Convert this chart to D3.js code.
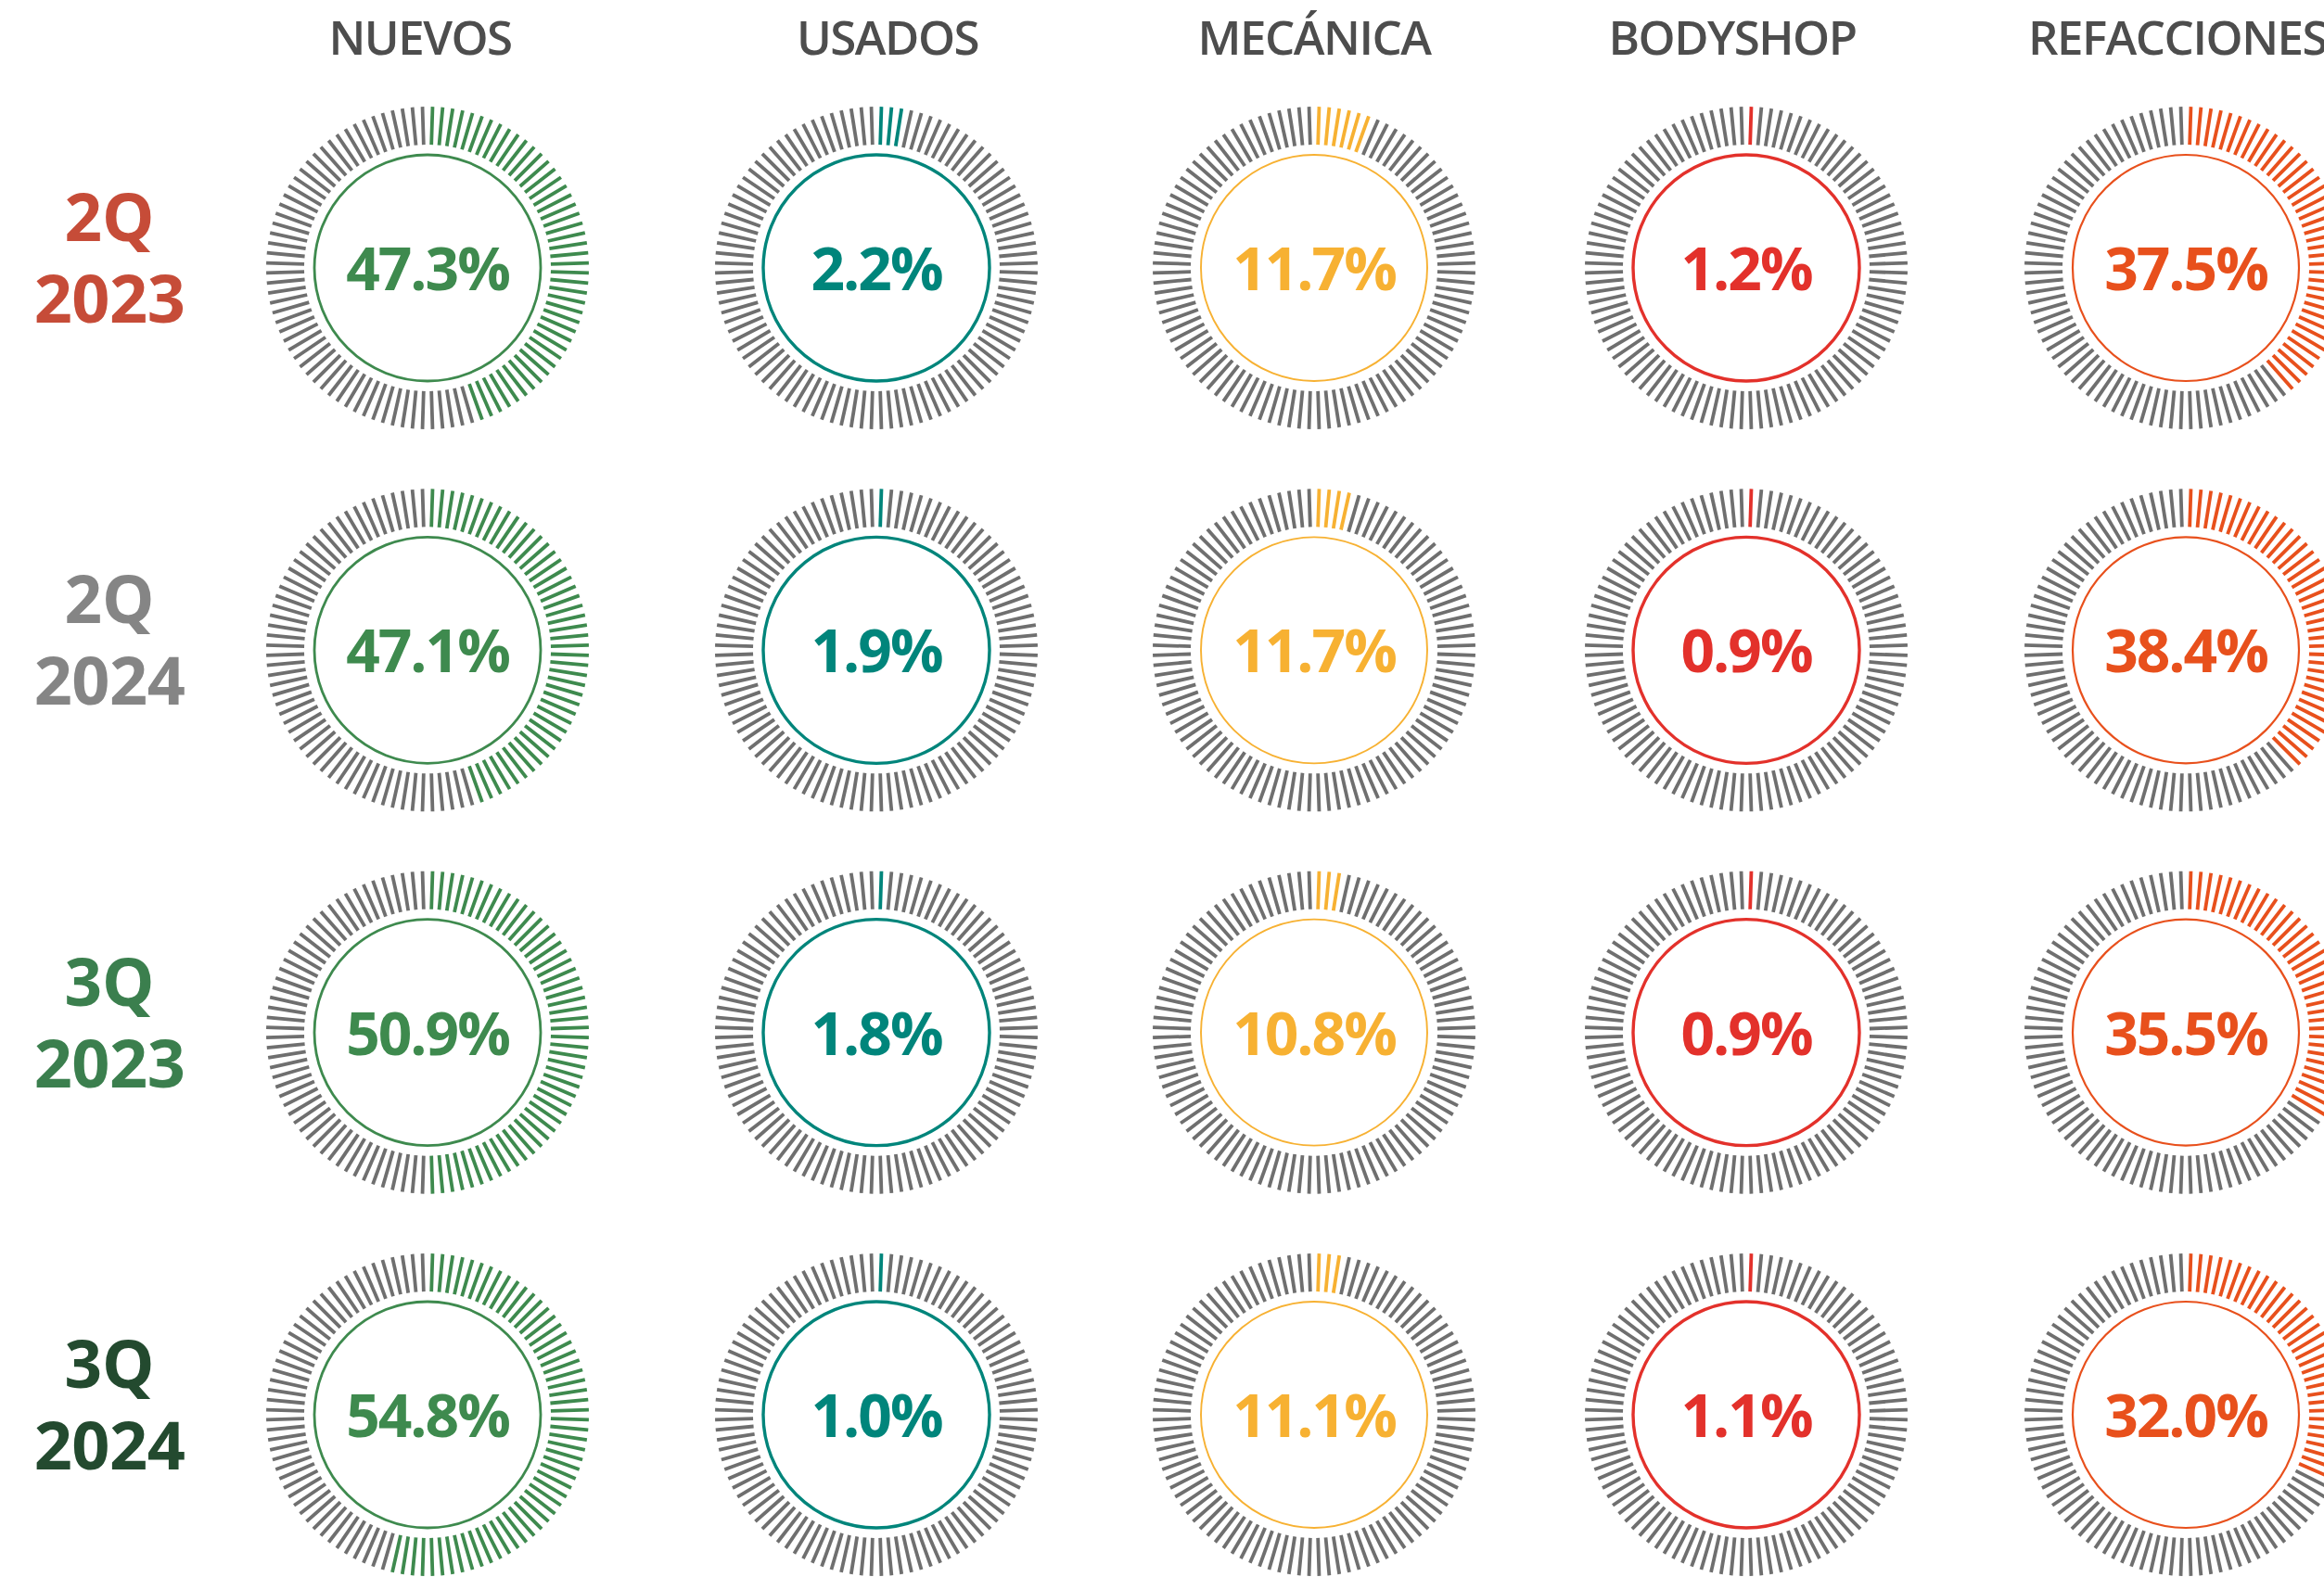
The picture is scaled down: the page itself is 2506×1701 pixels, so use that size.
<!DOCTYPE html>
<html><head><meta charset="utf-8">
<script src="https://cdn.jsdelivr.net/npm/d3@7"></script>
<style>body{margin:0;background:#fff;overflow:hidden}</style>
</head><body>
<script>
const categories = ["NUEVOS","USADOS","MECÁNICA","BODYSHOP","REFACCIONES"];
const quarters = ["2Q","2Q","3Q","3Q"];
const years = ["2023","2024","2023","2024"];
const nuevos = [47.3,47.1,50.9,54.8];
const usados = [2.2,1.9,1.8,1.0];
const mecanica = [11.7,11.7,10.8,11.1];
const bodyshop = [1.2,0.9,0.9,1.1];
const refacciones = [37.5,38.4,35.5,32.0];
// ticks lit (out of 100) as drawn in the picture
const litNuevos = [45,45,50,54];
const litUsados = [3,1,1,1];
const litMecanica = [6,4,3,3];
const litBodyshop = [1,1,1,1];
const litRefacciones = [39,38,34,32];
const catColors = ["#3e8a4e","#00857b","#f7b132","#e3312b","#e8501c"];
const periodColors = ["#c64c38","#858585","#3b7f4e","#234a2f"];

const values = [nuevos,usados,mecanica,bodyshop,refacciones];
const lits = [litNuevos,litUsados,litMecanica,litBodyshop,litRefacciones];
const periodKeys = quarters.map((q,i)=>q+" "+years[i]);

// layout
const W=2506,H=1701;
const colX=[461,945,1417,1883,2357];
const hdrX=[453,957,1417,1868,2348];
const ringStroke=[2.8,3.4,1.9,3.4,2.2];

const svg=d3.select("body").append("svg").attr("width",W).attr("height",H);
const x=d3.scaleOrdinal().domain(categories).range(colX);
const xh=d3.scaleOrdinal().domain(categories).range(hdrX);
const y=d3.scalePoint().domain(periodKeys).range([289,1526]);
const angle=d3.scaleLinear().domain([0,100]).range([0,2*Math.PI]);
const rOut=174,rIn=133,rCircle=122;
const tickIdx=d3.range(100);
const fmt=d3.format(".1f");

// headers
svg.selectAll("text.hdr").data(categories).join("text")
  .attr("class","hdr")
  .attr("x",d=>xh(d)).attr("y",59)
  .attr("text-anchor","middle")
  .attr("font-family","Open Sans").attr("font-weight",600)
  .attr("font-size",51).attr("letter-spacing",-1.5)
  .attr("fill","#4d4d4d").text(d=>d);

// row labels (one text, two lines)
const rl=svg.selectAll("text.rl").data(periodKeys).join("text").attr("class","rl")
  .attr("text-anchor","middle")
  .attr("font-family","Open Sans").attr("font-weight",700)
  .attr("fill",(d,i)=>periodColors[i]);
rl.append("tspan").attr("x",118).attr("y",d=>y(d)-29).attr("font-size",71)
  .text((d,i)=>quarters[i]);
rl.append("tspan").attr("x",118).attr("y",d=>y(d)+59).attr("font-size",72)
  .attr("letter-spacing",-0.5).text((d,i)=>years[i]);

// gauges
const cells=[];
categories.forEach((c,ci)=>periodKeys.forEach((p,pi)=>cells.push({c,ci,p,pi,v:values[ci][pi],lit:lits[ci][pi]})));
const g=svg.selectAll("g.gauge").data(cells).join("g").attr("class","gauge")
  .attr("transform",d=>`translate(${x(d.c)},${y(d.p)})`);
g.selectAll("line").data(d=>tickIdx.map(i=>({i,d}))).join("line")
  .each(function(t){
    const a=angle(t.i+0.5);
    const s=Math.sin(a),c=-Math.cos(a);
    d3.select(this).attr("x1",rIn*s).attr("y1",rIn*c).attr("x2",rOut*s).attr("y2",rOut*c);
  })
  .attr("stroke",t=>t.i<t.d.lit?catColors[t.d.ci]:"#6f6f6f")
  .attr("stroke-width",3.8);
g.append("circle").attr("r",rCircle).attr("fill","none")
  .attr("stroke",d=>catColors[d.ci]).attr("stroke-width",d=>ringStroke[d.ci]);
g.append("text").attr("y",24).attr("text-anchor","middle")
  .attr("font-family","Open Sans").attr("font-weight",700).attr("font-size",64)
  .attr("letter-spacing",-2)
  .attr("fill",d=>catColors[d.ci]).text(d=>fmt(d.v)+"%");
</script>
</body></html>
